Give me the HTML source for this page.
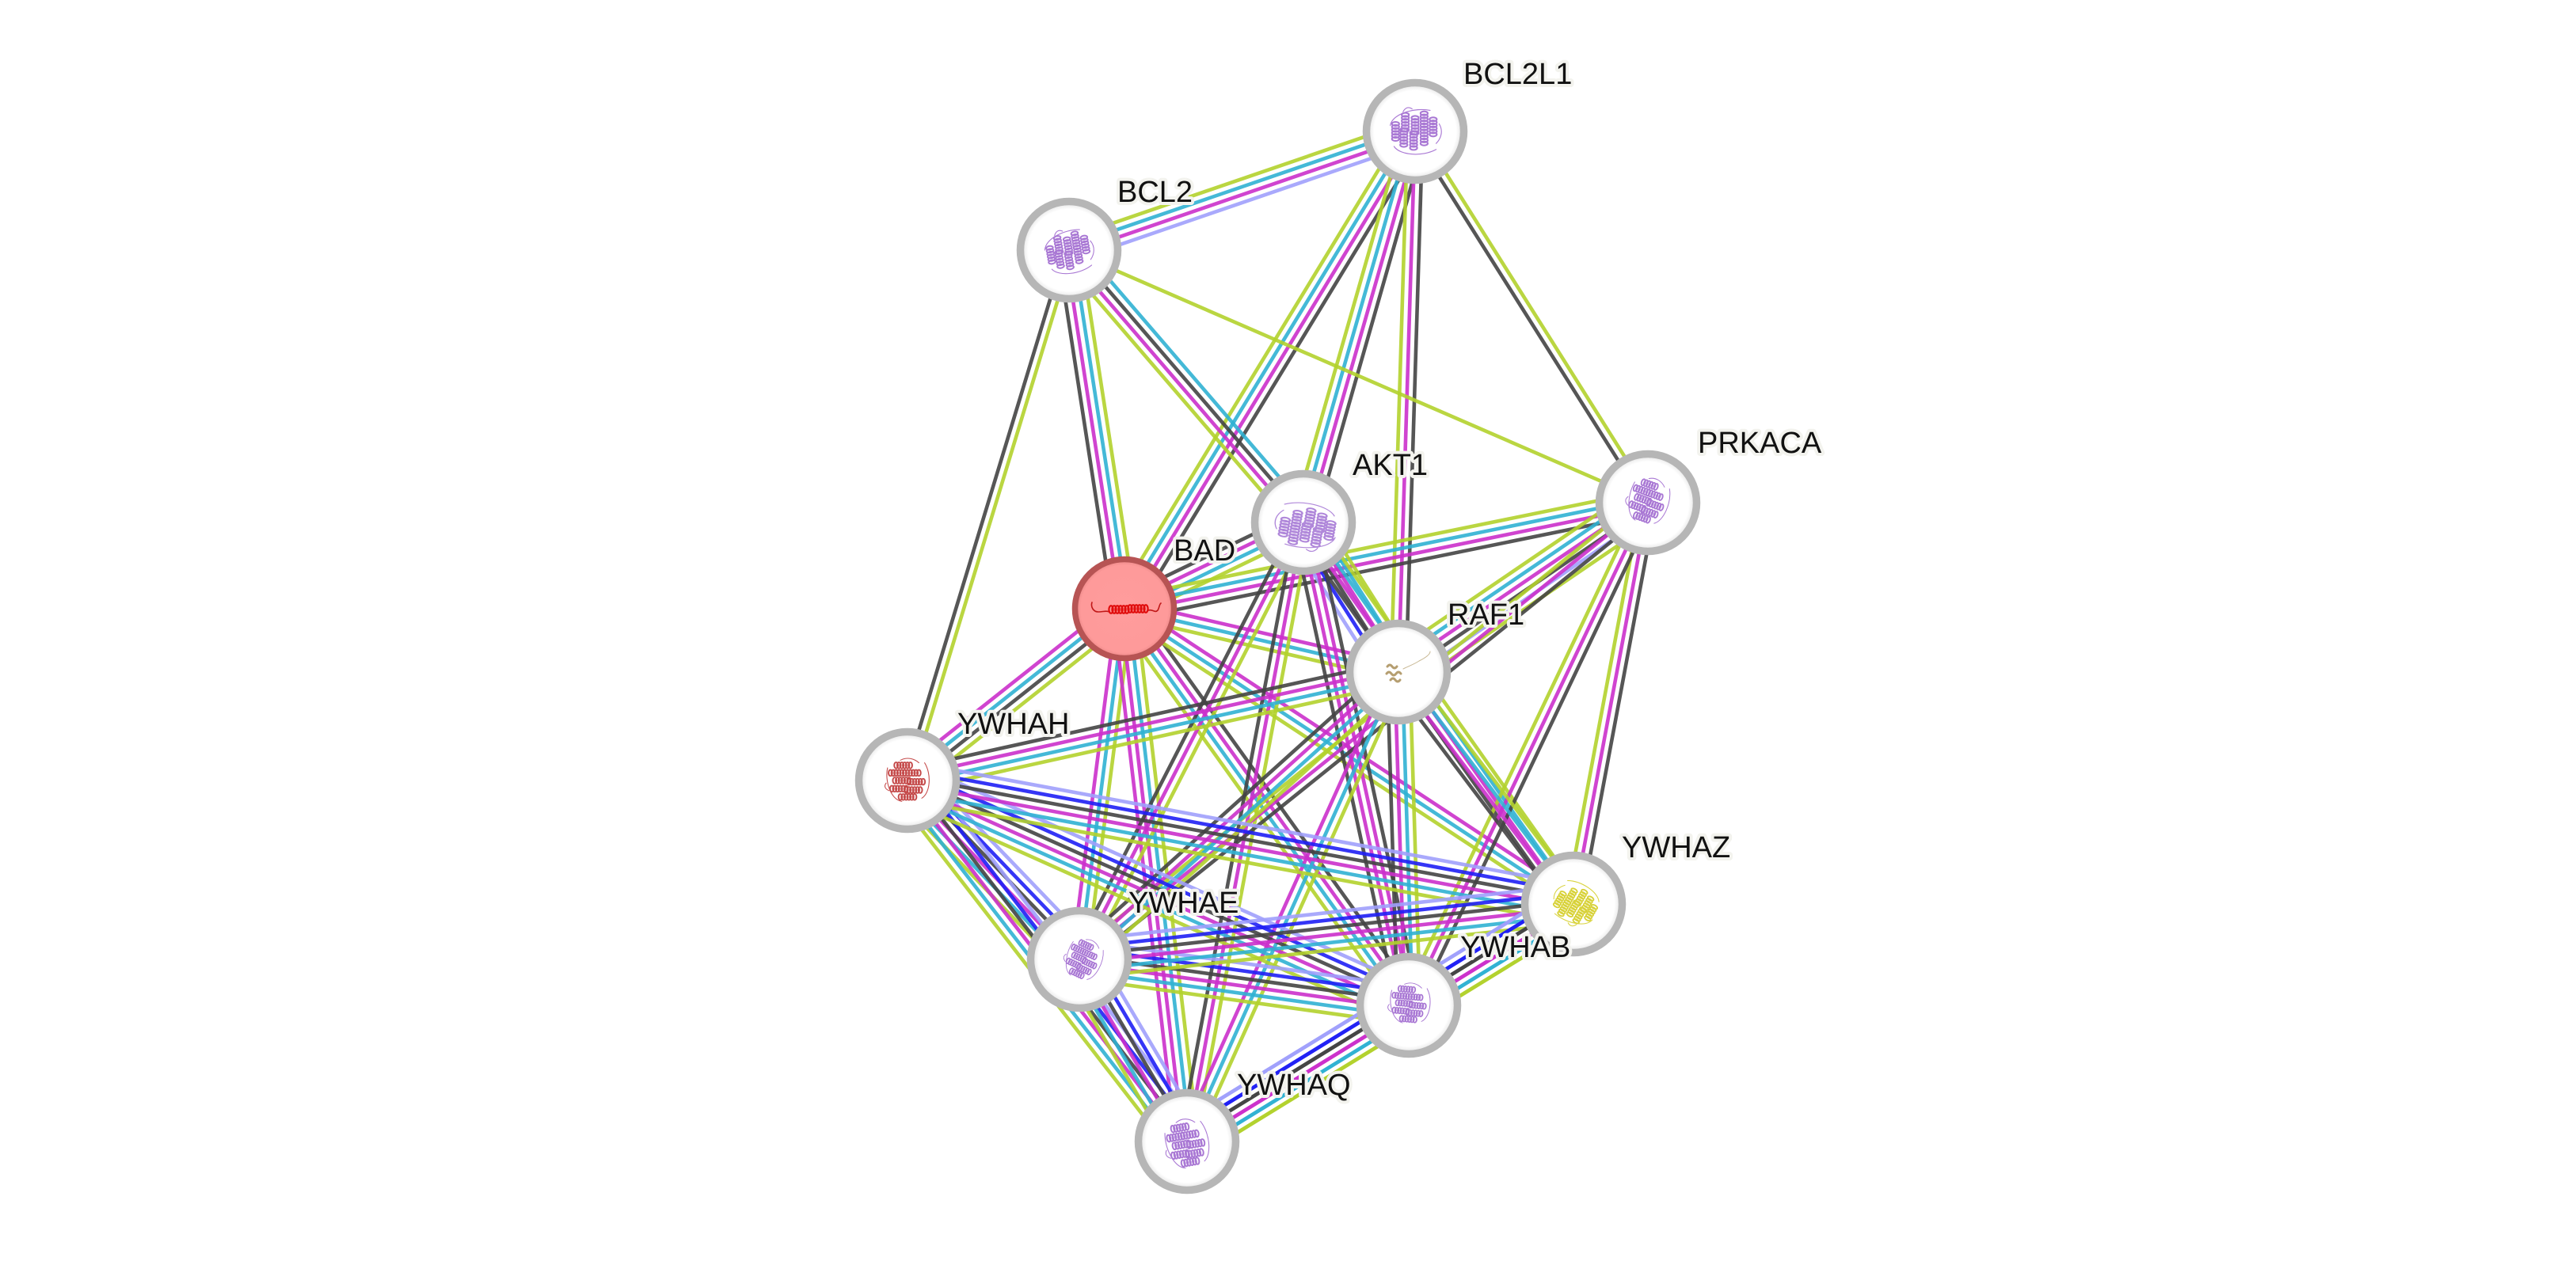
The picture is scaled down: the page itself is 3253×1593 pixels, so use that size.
<!DOCTYPE html>
<html><head><meta charset="utf-8">
<style>
html,body{margin:0;padding:0;background:#fff;}
body{width:3253px;height:1593px;overflow:hidden;}
svg{display:block;}
.e line{vector-effect:non-scaling-stroke;stroke-width:4.6;stroke-opacity:.9;}
.g{stroke:#b3d22c}.c{stroke:#30b1d3}.m{stroke:#cb30cb}.k{stroke:#444}.b{stroke:#1f1ff5}.p{stroke:#a0a0fc}
.lbl{font-family:"Liberation Sans",Arial,sans-serif;font-size:38px;fill:#111;stroke:#f3f3ee;stroke-width:8;stroke-linejoin:round;paint-order:stroke;}
</style></head><body>
<svg width="3253" height="1593" viewBox="0 0 3253 1593" xmlns="http://www.w3.org/2000/svg">
<defs>
<radialGradient id="ng" cx="50%" cy="50%" r="50%">
<stop offset="0" stop-color="#fff"/><stop offset=".84" stop-color="#fff"/><stop offset="1" stop-color="#dedede"/>
</radialGradient>
<radialGradient id="rg" cx="50%" cy="50%" r="50%">
<stop offset="0" stop-color="#ff9c9c"/><stop offset=".88" stop-color="#fe9a9a"/><stop offset="1" stop-color="#e88484"/>
</radialGradient>
<g id="coil" fill="none" stroke-width="2.2">
<ellipse cx="0" cy="0" rx="2.6" ry="4.8"/><ellipse cx="4" cy="0" rx="2.6" ry="4.8"/><ellipse cx="8" cy="0" rx="2.6" ry="4.8"/><ellipse cx="12" cy="0" rx="2.6" ry="4.8"/><ellipse cx="16" cy="0" rx="2.6" ry="4.8"/><ellipse cx="20" cy="0" rx="2.6" ry="4.8"/>
</g>
<g id="prot" stroke="currentColor" stroke-linecap="round">
<use href="#coil" x="-16" y="-24"/>
<use href="#coil" x="-24" y="-12"/>
<use href="#coil" x="-4" y="-12"/>
<use href="#coil" x="-18" y="0"/>
<use href="#coil" x="2" y="2"/>
<use href="#coil" x="-22" y="13"/>
<use href="#coil" x="-2" y="15"/>
<use href="#coil" x="-10" y="26"/>
<path fill="none" stroke-width="1.2" d="M-28,-20 C-32,0 -24,30 -8,33 M24,-28 C34,-10 32,20 20,28 M-10,-32 c10,-6 20,-2 26,4 M-30,4 c-4,6 0,10 4,12"/>
</g>
</defs>

<!-- edges -->
<g class="e">
<g transform="matrix(-437 150 -0.325 -0.946 1787 166)"><line class="p" x1="0" y1="-14.25" x2="1" y2="-14.25"/><line class="m" x1="0" y1="-4.75" x2="1" y2="-4.75"/><line class="c" x1="0" y1="4.75" x2="1" y2="4.75"/><line class="g" x1="0" y1="14.25" x2="1" y2="14.25"/></g>
<g transform="matrix(-367 603 -0.854 -0.520 1787 166)"><line class="k" x1="0" y1="-14.25" x2="1" y2="-14.25"/><line class="m" x1="0" y1="-4.75" x2="1" y2="-4.75"/><line class="c" x1="0" y1="4.75" x2="1" y2="4.75"/><line class="g" x1="0" y1="14.25" x2="1" y2="14.25"/></g>
<g transform="matrix(-141 494 -0.962 -0.274 1787 166)"><line class="k" x1="0" y1="-14.25" x2="1" y2="-14.25"/><line class="m" x1="0" y1="-4.75" x2="1" y2="-4.75"/><line class="c" x1="0" y1="4.75" x2="1" y2="4.75"/><line class="g" x1="0" y1="14.25" x2="1" y2="14.25"/></g>
<g transform="matrix(-21 683 -0.9995 -0.031 1787 166)"><line class="k" x1="0" y1="-9.5" x2="1" y2="-9.5"/><line class="m" x1="0" y1="0" x2="1" y2="0"/><line class="g" x1="0" y1="9.5" x2="1" y2="9.5"/></g>
<g transform="matrix(295 468 -0.846 0.533 1787 166)"><line class="g" x1="0" y1="-4.75" x2="1" y2="-4.75"/><line class="k" x1="0" y1="4.75" x2="1" y2="4.75"/></g>
<g transform="matrix(-204 670 -0.957 -0.291 1350 316)"><line class="g" x1="0" y1="-4.75" x2="1" y2="-4.75"/><line class="k" x1="0" y1="4.75" x2="1" y2="4.75"/></g>
<g transform="matrix(70 453 -0.988 0.153 1350 316)"><line class="g" x1="0" y1="-14.25" x2="1" y2="-14.25"/><line class="c" x1="0" y1="-4.75" x2="1" y2="-4.75"/><line class="m" x1="0" y1="4.75" x2="1" y2="4.75"/><line class="k" x1="0" y1="14.25" x2="1" y2="14.25"/></g>
<g transform="matrix(296 344 -0.758 0.652 1350 316)"><line class="c" x1="0" y1="-14.25" x2="1" y2="-14.25"/><line class="k" x1="0" y1="-4.75" x2="1" y2="-4.75"/><line class="m" x1="0" y1="4.75" x2="1" y2="4.75"/><line class="g" x1="0" y1="14.25" x2="1" y2="14.25"/></g>
<g transform="matrix(732 318 -0.398 0.917 1350 316)"><line class="g" x1="0" y1="0" x2="1" y2="0"/></g>
<g transform="matrix(226 -109 0.434 0.901 1420 769)"><line class="k" x1="0" y1="-14.25" x2="1" y2="-14.25"/><line class="m" x1="0" y1="-4.75" x2="1" y2="-4.75"/><line class="c" x1="0" y1="4.75" x2="1" y2="4.75"/><line class="g" x1="0" y1="14.25" x2="1" y2="14.25"/></g>
<g transform="matrix(662 -135 0.2 0.98 1420 769)"><line class="g" x1="0" y1="-14.25" x2="1" y2="-14.25"/><line class="c" x1="0" y1="-4.75" x2="1" y2="-4.75"/><line class="m" x1="0" y1="4.75" x2="1" y2="4.75"/><line class="k" x1="0" y1="14.25" x2="1" y2="14.25"/></g>
<g transform="matrix(346 80 -0.225 0.974 1420 769)"><line class="m" x1="0" y1="-9.5" x2="1" y2="-9.5"/><line class="c" x1="0" y1="0" x2="1" y2="0"/><line class="g" x1="0" y1="9.5" x2="1" y2="9.5"/></g>
<g transform="matrix(-274 217 -0.621 -0.784 1420 769)"><line class="g" x1="0" y1="-14.25" x2="1" y2="-14.25"/><line class="k" x1="0" y1="-4.75" x2="1" y2="-4.75"/><line class="c" x1="0" y1="4.75" x2="1" y2="4.75"/><line class="m" x1="0" y1="14.25" x2="1" y2="14.25"/></g>
<g transform="matrix(-57 443 -0.992 -0.128 1420 769)"><line class="g" x1="0" y1="-9.5" x2="1" y2="-9.5"/><line class="c" x1="0" y1="0" x2="1" y2="0"/><line class="m" x1="0" y1="9.5" x2="1" y2="9.5"/></g>
<g transform="matrix(79 673 -0.993 0.117 1420 769)"><line class="g" x1="0" y1="-14.25" x2="1" y2="-14.25"/><line class="c" x1="0" y1="-4.75" x2="1" y2="-4.75"/><line class="m" x1="0" y1="4.75" x2="1" y2="4.75"/><line class="m" x1="0" y1="14.25" x2="1" y2="14.25"/></g>
<g transform="matrix(359 501 -0.813 0.583 1420 769)"><line class="k" x1="0" y1="-14.25" x2="1" y2="-14.25"/><line class="m" x1="0" y1="-4.75" x2="1" y2="-4.75"/><line class="c" x1="0" y1="4.75" x2="1" y2="4.75"/><line class="g" x1="0" y1="14.25" x2="1" y2="14.25"/></g>
<g transform="matrix(567 373 -0.550 0.835 1420 769)"><line class="m" x1="0" y1="-9.5" x2="1" y2="-9.5"/><line class="c" x1="0" y1="0" x2="1" y2="0"/><line class="g" x1="0" y1="9.5" x2="1" y2="9.5"/></g>
<g transform="matrix(120 189 -0.844 0.536 1646 660)"><line class="g" x1="0" y1="-23.75" x2="1" y2="-23.75"/><line class="c" x1="0" y1="-14.25" x2="1" y2="-14.25"/><line class="m" x1="0" y1="-4.75" x2="1" y2="-4.75"/><line class="k" x1="0" y1="4.75" x2="1" y2="4.75"/><line class="b" x1="0" y1="14.25" x2="1" y2="14.25"/><line class="p" x1="0" y1="23.75" x2="1" y2="23.75"/></g>
<g transform="matrix(-283 552 -0.890 -0.456 1646 660)"><line class="g" x1="0" y1="-9.5" x2="1" y2="-9.5"/><line class="m" x1="0" y1="0" x2="1" y2="0"/><line class="k" x1="0" y1="9.5" x2="1" y2="9.5"/></g>
<g transform="matrix(-147 782 -0.983 -0.185 1646 660)"><line class="g" x1="0" y1="-9.5" x2="1" y2="-9.5"/><line class="m" x1="0" y1="0" x2="1" y2="0"/><line class="k" x1="0" y1="9.5" x2="1" y2="9.5"/></g>
<g transform="matrix(133 610 -0.977 0.213 1646 660)"><line class="k" x1="0" y1="-14.25" x2="1" y2="-14.25"/><line class="m" x1="0" y1="-4.75" x2="1" y2="-4.75"/><line class="m" x1="0" y1="4.75" x2="1" y2="4.75"/><line class="k" x1="0" y1="14.25" x2="1" y2="14.25"/></g>
<g transform="matrix(341 482 -0.816 0.578 1646 660)"><line class="g" x1="0" y1="-14.25" x2="1" y2="-14.25"/><line class="c" x1="0" y1="-4.75" x2="1" y2="-4.75"/><line class="m" x1="0" y1="4.75" x2="1" y2="4.75"/><line class="k" x1="0" y1="14.25" x2="1" y2="14.25"/></g>
<g transform="matrix(-316 215 -0.563 -0.827 2082 634)"><line class="g" x1="0" y1="-23.75" x2="1" y2="-23.75"/><line class="p" x1="0" y1="-14.25" x2="1" y2="-14.25"/><line class="k" x1="0" y1="-4.75" x2="1" y2="-4.75"/><line class="m" x1="0" y1="4.75" x2="1" y2="4.75"/><line class="c" x1="0" y1="14.25" x2="1" y2="14.25"/><line class="g" x1="0" y1="23.75" x2="1" y2="23.75"/></g>
<g transform="matrix(-95 508 -0.983 -0.184 2082 634)"><line class="k" x1="0" y1="-9.5" x2="1" y2="-9.5"/><line class="m" x1="0" y1="0" x2="1" y2="0"/><line class="g" x1="0" y1="9.5" x2="1" y2="9.5"/></g>
<g transform="matrix(-303 636 -0.903 -0.430 2082 634)"><line class="k" x1="0" y1="-9.5" x2="1" y2="-9.5"/><line class="m" x1="0" y1="0" x2="1" y2="0"/><line class="g" x1="0" y1="9.5" x2="1" y2="9.5"/></g>
<g transform="matrix(-719 578 -0.627 -0.779 2082 634)"><line class="k" x1="0" y1="-9.5" x2="1" y2="-9.5"/><line class="m" x1="0" y1="0" x2="1" y2="0"/><line class="g" x1="0" y1="9.5" x2="1" y2="9.5"/></g>
<g transform="matrix(-620 137 -0.216 -0.976 1766 849)"><line class="g" x1="0" y1="-14.25" x2="1" y2="-14.25"/><line class="c" x1="0" y1="-4.75" x2="1" y2="-4.75"/><line class="m" x1="0" y1="4.75" x2="1" y2="4.75"/><line class="k" x1="0" y1="14.25" x2="1" y2="14.25"/></g>
<g transform="matrix(-403 363 -0.669 -0.743 1766 849)"><line class="g" x1="0" y1="-14.25" x2="1" y2="-14.25"/><line class="c" x1="0" y1="-4.75" x2="1" y2="-4.75"/><line class="m" x1="0" y1="4.75" x2="1" y2="4.75"/><line class="k" x1="0" y1="14.25" x2="1" y2="14.25"/></g>
<g transform="matrix(-267 593 -0.912 -0.411 1766 849)"><line class="g" x1="0" y1="-9.5" x2="1" y2="-9.5"/><line class="c" x1="0" y1="0" x2="1" y2="0"/><line class="m" x1="0" y1="9.5" x2="1" y2="9.5"/></g>
<g transform="matrix(13 421 -0.9995 0.031 1766 849)"><line class="g" x1="0" y1="-14.25" x2="1" y2="-14.25"/><line class="c" x1="0" y1="-4.75" x2="1" y2="-4.75"/><line class="m" x1="0" y1="4.75" x2="1" y2="4.75"/><line class="k" x1="0" y1="14.25" x2="1" y2="14.25"/></g>
<g transform="matrix(221 293 -0.798 0.602 1766 849)"><line class="g" x1="0" y1="-14.25" x2="1" y2="-14.25"/><line class="c" x1="0" y1="-4.75" x2="1" y2="-4.75"/><line class="m" x1="0" y1="4.75" x2="1" y2="4.75"/><line class="k" x1="0" y1="14.25" x2="1" y2="14.25"/></g>
<!-- 14-3-3 pairs -->
<g transform="matrix(217 226 -0.721 0.693 1146 986)"><line class="p" x1="0" y1="-23.75" x2="1" y2="-23.75"/><line class="b" x1="0" y1="-14.25" x2="1" y2="-14.25"/><line class="k" x1="0" y1="-4.75" x2="1" y2="-4.75"/><line class="m" x1="0" y1="4.75" x2="1" y2="4.75"/><line class="c" x1="0" y1="14.25" x2="1" y2="14.25"/><line class="g" x1="0" y1="23.75" x2="1" y2="23.75"/></g>
<g transform="matrix(353 456 -0.791 0.612 1146 986)"><line class="p" x1="0" y1="-23.75" x2="1" y2="-23.75"/><line class="b" x1="0" y1="-14.25" x2="1" y2="-14.25"/><line class="k" x1="0" y1="-4.75" x2="1" y2="-4.75"/><line class="m" x1="0" y1="4.75" x2="1" y2="4.75"/><line class="c" x1="0" y1="14.25" x2="1" y2="14.25"/><line class="g" x1="0" y1="23.75" x2="1" y2="23.75"/></g>
<g transform="matrix(633 284 -0.409 0.912 1146 986)"><line class="p" x1="0" y1="-23.75" x2="1" y2="-23.75"/><line class="b" x1="0" y1="-14.25" x2="1" y2="-14.25"/><line class="k" x1="0" y1="-4.75" x2="1" y2="-4.75"/><line class="m" x1="0" y1="4.75" x2="1" y2="4.75"/><line class="c" x1="0" y1="14.25" x2="1" y2="14.25"/><line class="g" x1="0" y1="23.75" x2="1" y2="23.75"/></g>
<g transform="matrix(841 156 -0.182 0.983 1146 986)"><line class="p" x1="0" y1="-23.75" x2="1" y2="-23.75"/><line class="b" x1="0" y1="-14.25" x2="1" y2="-14.25"/><line class="k" x1="0" y1="-4.75" x2="1" y2="-4.75"/><line class="m" x1="0" y1="4.75" x2="1" y2="4.75"/><line class="c" x1="0" y1="14.25" x2="1" y2="14.25"/><line class="g" x1="0" y1="23.75" x2="1" y2="23.75"/></g>
<g transform="matrix(136 230 -0.861 0.509 1363 1212)"><line class="p" x1="0" y1="-23.75" x2="1" y2="-23.75"/><line class="b" x1="0" y1="-14.25" x2="1" y2="-14.25"/><line class="k" x1="0" y1="-4.75" x2="1" y2="-4.75"/><line class="m" x1="0" y1="4.75" x2="1" y2="4.75"/><line class="c" x1="0" y1="14.25" x2="1" y2="14.25"/><line class="g" x1="0" y1="23.75" x2="1" y2="23.75"/></g>
<g transform="matrix(416 58 -0.138 0.990 1363 1212)"><line class="p" x1="0" y1="-23.75" x2="1" y2="-23.75"/><line class="b" x1="0" y1="-14.25" x2="1" y2="-14.25"/><line class="k" x1="0" y1="-4.75" x2="1" y2="-4.75"/><line class="m" x1="0" y1="4.75" x2="1" y2="4.75"/><line class="c" x1="0" y1="14.25" x2="1" y2="14.25"/><line class="g" x1="0" y1="23.75" x2="1" y2="23.75"/></g>
<g transform="matrix(624 -70 0.111 0.994 1363 1212)"><line class="p" x1="0" y1="-23.75" x2="1" y2="-23.75"/><line class="b" x1="0" y1="-14.25" x2="1" y2="-14.25"/><line class="k" x1="0" y1="-4.75" x2="1" y2="-4.75"/><line class="m" x1="0" y1="4.75" x2="1" y2="4.75"/><line class="c" x1="0" y1="14.25" x2="1" y2="14.25"/><line class="g" x1="0" y1="23.75" x2="1" y2="23.75"/></g>
<g transform="matrix(280 -172 0.523 0.852 1499 1442)"><line class="p" x1="0" y1="-23.75" x2="1" y2="-23.75"/><line class="b" x1="0" y1="-14.25" x2="1" y2="-14.25"/><line class="k" x1="0" y1="-4.75" x2="1" y2="-4.75"/><line class="m" x1="0" y1="4.75" x2="1" y2="4.75"/><line class="c" x1="0" y1="14.25" x2="1" y2="14.25"/><line class="g" x1="0" y1="23.75" x2="1" y2="23.75"/></g>
<g transform="matrix(488 -300 0.524 0.852 1499 1442)"><line class="p" x1="0" y1="-23.75" x2="1" y2="-23.75"/><line class="b" x1="0" y1="-14.25" x2="1" y2="-14.25"/><line class="k" x1="0" y1="-4.75" x2="1" y2="-4.75"/><line class="m" x1="0" y1="4.75" x2="1" y2="4.75"/><line class="c" x1="0" y1="14.25" x2="1" y2="14.25"/><line class="g" x1="0" y1="23.75" x2="1" y2="23.75"/></g>
<g transform="matrix(208 -128 0.524 0.852 1779 1270)"><line class="p" x1="0" y1="-23.75" x2="1" y2="-23.75"/><line class="b" x1="0" y1="-14.25" x2="1" y2="-14.25"/><line class="k" x1="0" y1="-4.75" x2="1" y2="-4.75"/><line class="m" x1="0" y1="4.75" x2="1" y2="4.75"/><line class="c" x1="0" y1="14.25" x2="1" y2="14.25"/><line class="g" x1="0" y1="23.75" x2="1" y2="23.75"/></g>
</g>

<!-- nodes -->
<g stroke="#b6b6b6" stroke-width="9.5" fill="url(#ng)">
<circle cx="1787" cy="166" r="61.5"/>
<circle cx="1350" cy="316" r="61.5"/>
<circle cx="1646" cy="660" r="61.5"/>
<circle cx="2081" cy="635" r="61.5"/>
<circle cx="1766" cy="849" r="61.5"/>
<circle cx="1146" cy="986" r="61.5"/>
<circle cx="1987" cy="1142" r="61.5"/>
<circle cx="1363" cy="1212" r="61.5"/>
<circle cx="1779" cy="1270" r="61.5"/>
<circle cx="1499" cy="1442" r="61.5"/>
</g>
<circle cx="1420" cy="769" r="62.5" fill="url(#rg)" stroke="#b75454" stroke-width="7.5"/>

<!-- protein structures -->
<use href="#prot" transform="translate(1787,166) rotate(90) scale(0.95)" style="color:#a978d4"/>
<use href="#prot" transform="translate(1350,318) rotate(80) scale(0.9)" style="color:#a978d4"/>
<use href="#prot" transform="translate(1650,665) rotate(-80) scale(0.95,1.15)" style="color:#b088da"/>
<use href="#prot" transform="translate(2081,633) rotate(20) scale(0.85)" style="color:#a978d4"/>
<use href="#prot" transform="translate(1146,986) scale(0.9,0.8)" style="color:#c54b4b"/>
<use href="#prot" transform="translate(1990,1142) rotate(-60) scale(0.85)" style="color:#d8d23a"/>
<use href="#prot" transform="translate(1368,1212) rotate(25) scale(0.75)" style="color:#a978d4"/>
<use href="#prot" transform="translate(1780,1268) rotate(5) scale(0.85,0.75)" style="color:#a978d4"/>
<use href="#prot" transform="translate(1499,1445) rotate(-10) scale(0.9)" style="color:#a978d4"/>
<!-- RAF1 small structure -->
<g fill="none" stroke="#b59e70" stroke-linecap="round">
<path stroke-width="3" d="M1752,842 q3,-4 6,0 q3,4 6,0 M1751,851 q3,-4 6,0 q3,4 6,0 q3,-4 6,0 M1756,859 q3,-4 6,0 q3,4 6,0"/>
<path stroke-width="1" stroke="#c8b894" d="M1772,845 c8,-4 14,-6 20,-10 c8,-4 14,-8 14,-12"/>
</g>
<!-- BAD helix -->
<g fill="none" stroke-linecap="round">
<path stroke="#c01818" stroke-width="1.6" d="M1379,761 c-2,6 2,12 8,12 c6,0 10,-2 14,0 M1450,771 c6,-2 8,4 12,0 c2,-3 2,-8 4,-9"/>
<g stroke="#e00d0d"><use href="#coil" x="1403" y="770"/><use href="#coil" x="1427" y="769"/></g>
</g>

<!-- labels -->
<g class="lbl">
<text x="1848" y="106">BCL2L1</text>
<text x="1411" y="255">BCL2</text>
<text x="1708" y="600">AKT1</text>
<text x="2144" y="572">PRKACA</text>
<text x="1482" y="708">BAD</text>
<text x="1828" y="789">RAF1</text>
<text x="1209" y="927">YWHAH</text>
<text x="1425" y="1153">YWHAE</text>
<text x="2048" y="1083">YWHAZ</text>
<text x="1844" y="1209">YWHAB</text>
<text x="1562" y="1383">YWHAQ</text>
</g>
</svg>
</body></html>
